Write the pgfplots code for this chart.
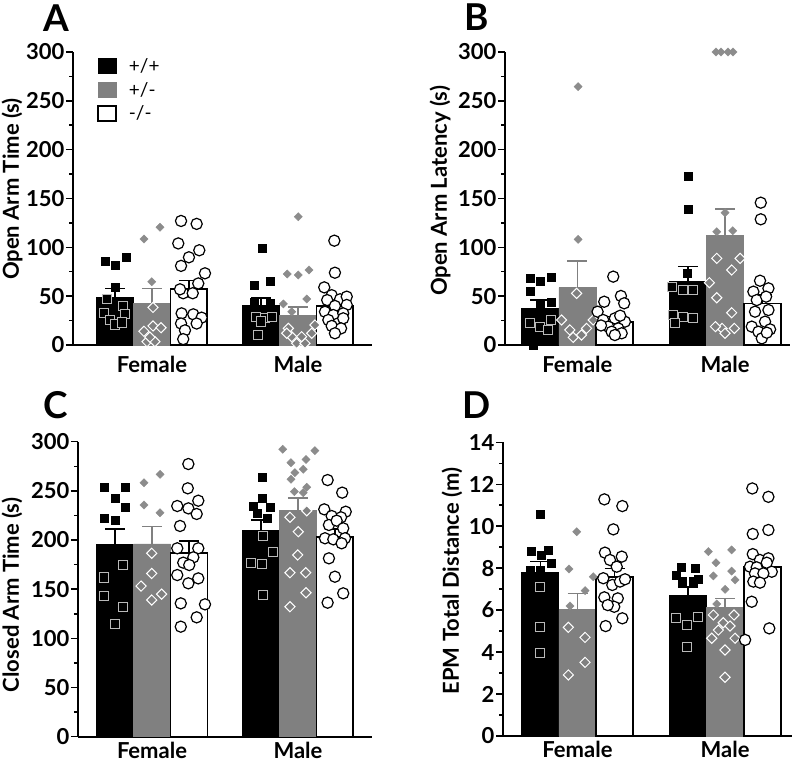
\documentclass[border=0pt]{standalone}
\usepackage{pgfplots}
\pgfplotsset{compat=1.18}
\usepackage{fontspec}
\setmainfont{Lato}
\definecolor{barg}{RGB}{128,128,128}
\definecolor{ptg}{RGB}{140,140,140}
\definecolor{edgeg}{RGB}{185,185,185}
\pgfplotsset{
  base/.style={scale only axis, anchor=south west,
    axis lines*=left, axis line style={line width=1.8pt, -},
    ymin=0, xtick={0,1}, xticklabels={Female,Male},
    major x tick style={draw=none},
    every tick/.append style={line width=1.5pt, black},
    tick align=outside, major tick length=7pt, minor tick length=4pt,
    minor y tick num=1, clip=false,
    tick label style={font=\bfseries\fontsize{22}{22}\selectfont},
    yticklabel style={inner sep=1.5pt},
    xticklabel style={inner sep=0pt, yshift=-4pt},
    /pgf/number format/assume math mode=true},
  wtbar/.style={ybar, bar width=#1, bar shift=-#1, fill=black, draw=black, line width=1pt},
  hetbar/.style={ybar, bar width=#1, bar shift=0pt, fill=barg, draw=barg, line width=0.5pt},
  kobar/.style={ybar, bar width=#1, bar shift=#1, fill=white, draw=black, line width=1.8pt},
  errb/.style={draw=none, mark=none, forget plot, error bars/.cd, y dir=plus, y explicit,
    error bar style={line width=1.6pt, draw=#1, solid},
    error mark options={rotate=90, mark size=10pt, line width=1.6pt, draw=#1, solid}},
  wtfill/.style={only marks, mark=square*, mark size=4pt, mark options={fill=black, draw=black, line width=0.4pt}},
  wthol/.style={only marks, mark=square*, mark size=4.6pt, mark options={fill=black, draw=edgeg, line width=1pt}},
  hetfill/.style={only marks, mark=square*, mark size=2.9pt, mark options={rotate=45, fill=ptg, draw=ptg, line width=0.4pt}},
  hethol/.style={only marks, mark=square*, mark size=3.6pt, mark options={rotate=45, fill=barg, draw=white, line width=1pt}},
  kocirc/.style={only marks, mark=*, mark size=5.6pt, mark options={fill=white, draw=black, line width=1.2pt}},
}
\begin{document}
\begin{tikzpicture}
\useasboundingbox (0pt,0pt) rectangle (800pt,763pt);
% ---------------- Panel A ----------------
\begin{axis}[base, at={(73pt,418pt)}, width=299pt, height=293pt,
  xmin=-0.541, xmax=1.507, ymax=300, ytick={0,50,...,300},
  legend style={at={(rel axis cs:0.08,0.985)}, anchor=north west, draw=none, fill=none,
    font=\fontsize{19}{19}\selectfont, row sep=4pt, inner sep=0pt, cells={anchor=west},
    /tikz/every odd column/.append style={column sep=10pt}},
  legend image code/.code={\draw[#1] (0pt,-7.5pt) rectangle (18pt,7.5pt);}]
\addlegendimage{fill=black, draw=black, line width=1pt}
\addlegendentry{+/+}
\addlegendimage{fill=barg, draw=barg, line width=1pt}
\addlegendentry{+/-}
\addlegendimage{fill=white, draw=black, line width=1.8pt}
\addlegendentry{-/-}
\addplot[wtbar=0.253] coordinates {(0,48.5) (1,40)};
\addplot[hetbar=0.253] coordinates {(0,42.7) (1,30.7)};
\addplot[kobar=0.253] coordinates {(0,57) (1,40)};
\addplot[errb=black] coordinates {(-0.253,48.5) +- (0,9.5) (0.747,40) +- (0,8.4)};
\addplot[errb=barg] coordinates {(0,42.7) +- (0,15.3) (1,30.7) +- (0,8.3)};
\addplot[errb=black] coordinates {(0.253,57) +- (0,9) (1.253,40) +- (0,4.5)};
\addplot[wtfill] coordinates {(-0.322,86.3) (-0.253,82) (-0.18,89.8) (-0.253,59) (0.755,99) (0.699,61.4) (0.808,65.5) (0.699,44.3) (0.808,42.7)};
\addplot[wthol] coordinates {(-0.31,47) (-0.197,40) (-0.329,33) (-0.185,31.4) (-0.288,26) (-0.253,21) (-0.208,23) (0.71,29) (0.774,27.3) (0.82,29) (0.747,24) (0.724,10.2)};
\addplot[hetfill] coordinates {(-0.055,108.5) (0.055,120.5) (-0.002,64.8) (1.002,131.4) (0.927,72.7) (1.002,71.7) (1.075,76.8) (1.06,47) (0.9,42) (0.957,34)};
\addplot[hethol] coordinates {(0.007,38.5) (-0.055,14) (0.007,19.5) (0.062,17.7) (-0.034,3.4) (0.02,3.4) (-0.014,8) (0.934,17) (0.957,8.5) (0.991,1.7) (1.048,1.7) (1.094,12) (1.116,20.5) (1.025,8.5) (0.923,12)};
\addplot[kocirc] coordinates {(0.199,127) (0.306,124) (0.18,104) (0.253,89.8) (0.324,97) (0.199,81) (0.363,73.4) (0.317,63) (0.214,53) (0.279,53) (0.192,57) (0.203,32.4) (0.283,31.4) (0.34,28) (0.199,22) (0.306,22) (0.226,15) (0.214,6)
 (1.249,106.8) (1.253,74) (1.18,59) (1.231,51) (1.288,46.8) (1.334,49.5) (1.2,46) (1.253,40) (1.334,41) (1.185,34) (1.242,30.7) (1.31,32.4) (1.208,25.6) (1.276,22.2) (1.31,27.3) (1.231,19.5) (1.295,17) (1.253,12)};
\end{axis}
% ---------------- Panel B ----------------
\begin{axis}[base, at={(505pt,418pt)}, width=285pt, height=293pt,
  xmin=-0.49, xmax=1.44, ymax=300, ytick={0,50,...,300}]
\addplot[wtbar=0.252] coordinates {(0,37.5) (1,65.5)};
\addplot[hetbar=0.252] coordinates {(0,58.7) (1,112.6)};
\addplot[kobar=0.252] coordinates {(0,23.9) (1,42.5)};
\addplot[errb=black] coordinates {(-0.252,37.5) +- (0,8.5) (0.748,65.5) +- (0,14.7)};
\addplot[errb=barg] coordinates {(0,58.7) +- (0,27.6) (1,112.6) +- (0,26.4)};
\addplot[errb=black] coordinates {(0.252,23.9) +- (0,5.1) (1.252,42.5) +- (0,9)};
\addplot[wtfill] coordinates {(-0.322,68.2) (-0.254,65.8) (-0.18,69.3) (-0.322,54.6) (-0.254,42.7) (-0.18,44.3) (-0.3,0) (0.751,173) (0.751,139) (0.744,74)};
\addplot[wthol] coordinates {(-0.322,22.9) (-0.254,18.8) (-0.198,15.4) (-0.18,25.6) (0.639,59.7) (0.717,56.3) (0.785,56.3) (0.65,30.7) (0.717,29) (0.661,22.9) (0.785,27.3)};
\addplot[hetfill] coordinates {(0.005,264.5) (0.005,108.2) (0.939,300) (0.973,300) (1.02,300) (1.054,300) (1.0,135.5) (0.944,116) (1.052,117)};
\addplot[hethol] coordinates {(-0.005,52.9) (-0.107,25.6) (-0.051,15.4) (-0.028,7.8) (0.028,10.2) (0.062,17) (0.107,25.6) (0.944,88.7) (1.102,88.7) (1.045,76.8) (0.894,63.8) (0.944,48.4) (1.045,33) (0.98,17) (0.935,18.8) (1.0,12) (1.063,17)};
\addplot[kocirc] coordinates {(0.243,70) (0.182,44.3) (0.295,50.2) (0.317,42.7) (0.137,34.1) (0.175,25.6) (0.254,27.3) (0.322,23.9) (0.209,18.8) (0.277,17) (0.232,13.6) (0.3,12) (0.254,10.2) (0.16,20) (0.29,30)
 (1.242,145.7) (1.242,128.7) (1.237,65.8) (1.192,54.6) (1.294,58) (1.215,46) (1.278,49.5) (1.203,34.1) (1.294,35.8) (1.181,18.8) (1.271,23.9) (1.305,16) (1.226,13.6) (1.249,6.8) (1.283,12.6)};
\end{axis}
% ---------------- Panel C ----------------
\begin{axis}[base, at={(78pt,26.3pt)}, width=293.7pt, height=295pt,
  xmin=-0.507, xmax=1.505, ymax=300, ytick={0,50,...,300},
  xticklabel style={yshift=6pt}]
\addplot[wtbar=0.253] coordinates {(0,195) (1,210.2)};
\addplot[hetbar=0.253] coordinates {(0,196) (1,230.5)};
\addplot[kobar=0.253] coordinates {(0,187) (1,203.4)};
\addplot[errb=black] coordinates {(-0.253,195) +- (0,16) (0.747,210.2) +- (0,10.2)};
\addplot[errb=barg] coordinates {(0,196) +- (0,17.6) (1,230.5) +- (0,12.5)};
\addplot[errb=black] coordinates {(0.253,187) +- (0,12.3) (1.253,203.4) +- (0,7.6)};
\addplot[wtfill] coordinates {(-0.329,253.6) (-0.185,253.6) (-0.253,243) (-0.185,233) (-0.329,222) (-0.253,219.7) (0.755,264.4) (0.755,242.4) (0.694,234.6) (0.808,233.3) (0.724,227.2) (0.786,222)};
\addplot[wthol] coordinates {(-0.197,174.6) (-0.329,162) (-0.329,143) (-0.197,132) (-0.253,115) (0.762,204) (0.831,188) (0.678,177) (0.755,175.6) (0.762,144)};
\addplot[hetfill] coordinates {(-0.055,258.3) (0.055,266.8) (-0.055,235.6) (0.055,227.8) (0.895,292.3) (1.116,290.9) (0.952,278.7) (1.055,282) (0.979,268.5) (1.036,272) (0.952,261.8) (1.06,253.6) (0.975,249.2) (1.036,248.2)};
\addplot[hethol] coordinates {(-0.002,186.5) (-0.002,166) (-0.075,153.2) (0.066,145) (-0.002,139) (0.945,223.1) (1.06,229.8) (1.002,208.5) (0.998,184.8) (0.945,166.8) (1.053,166.8) (1.055,146.4) (0.945,132.2)};
\addplot[kocirc] coordinates {(0.249,277.3) (0.245,252.6) (0.317,240) (0.173,234.6) (0.249,232.2) (0.306,226.5) (0.192,214.3) (0.173,191.6) (0.317,191.6) (0.283,182.4) (0.214,177) (0.255,174.6) (0.173,164.4) (0.317,161) (0.249,156) (0.197,135.6) (0.363,134.6) (0.306,121.4) (0.197,111.9)
 (1.203,261) (1.303,248.2) (1.18,231.2) (1.327,228.8) (1.231,224.4) (1.295,223.1) (1.212,215.3) (1.265,219.7) (1.31,211.9) (1.185,201.8) (1.242,200.7) (1.322,201.8) (1.299,196.7) (1.212,181.4) (1.253,162.7) (1.31,145.8) (1.203,136.3)};
\end{axis}
% ---------------- Panel D ----------------
\begin{axis}[base, at={(503pt,27pt)}, width=288.7pt, height=293.7pt,
  xmin=-0.505, xmax=1.452, ymax=14, ytick={0,2,...,14},
  xticklabel style={yshift=6pt}]
\addplot[wtbar=0.252] coordinates {(0,7.78) (1,6.69)};
\addplot[hetbar=0.252] coordinates {(0,6.04) (1,6.13)};
\addplot[kobar=0.252] coordinates {(0,7.59) (1,8.07)};
\addplot[errb=black] coordinates {(-0.252,7.78) +- (0,0.53) (0.748,6.69) +- (0,0.4)};
\addplot[errb=barg] coordinates {(0,6.04) +- (0,0.76) (1,6.13) +- (0,0.43)};
\addplot[errb=black] coordinates {(0.252,7.59) +- (0,0.4) (1.252,8.07) +- (0,0.48)};
\addplot[wtfill] coordinates {(-0.254,10.58) (-0.311,8.79) (-0.247,8.63) (-0.202,8.87) (-0.175,8.23) (-0.322,7.91) (-0.254,7.88) (0.7,8.07) (0.797,7.99) (0.668,7.67) (0.713,7.4) (0.781,7.36) (0.819,7.47)};
\addplot[wthol] coordinates {(-0.254,7.09) (-0.254,5.21) (-0.254,3.94) (0.668,5.61) (0.744,5.29) (0.819,5.69) (0.744,4.26)};
\addplot[hetfill] coordinates {(-0.005,9.74) (-0.058,7.96) (0.107,7.59) (0.051,6.93) (-0.051,6.2) (0.887,8.79) (1.045,8.87) (0.939,8.26) (1.045,7.86) (0.921,7.63) (1.068,7.44) (1.0,6.99) (0.944,6.29)};
\addplot[hethol] coordinates {(-0.062,5.18) (0.051,4.7) (0.051,3.51) (-0.062,2.91) (0.921,5.77) (1.061,5.77) (0.988,5.4) (1.034,5.24) (0.955,5.05) (0.91,4.66) (1.068,4.66) (1.0,4.1) (1.0,2.8)};
\addplot[kocirc] coordinates {(0.182,11.28) (0.304,10.96) (0.243,9.85) (0.186,8.74) (0.3,8.55) (0.22,8.39) (0.266,8.07) (0.175,7.52) (0.236,7.2) (0.288,7.36) (0.322,7.47) (0.182,6.61) (0.273,6.56) (0.249,6.16) (0.205,6.24) (0.304,5.61) (0.191,5.24)
 (1.185,11.8) (1.294,11.4) (1.188,9.63) (1.294,9.82) (1.188,8.67) (1.237,8.39) (1.294,8.47) (1.169,8.07) (1.215,8.04) (1.283,8.26) (1.317,7.83) (1.203,7.75) (1.26,7.75) (1.192,7.36) (1.237,7.31) (1.181,6.4) (1.3,5.13) (1.136,4.58)};
\end{axis}
% ---------------- labels ----------------
\begin{scope}[every node/.style={inner sep=0pt}]
\node[anchor=base west, font=\bfseries\fontsize{37}{37}\selectfont] at (43pt,731pt) {A};
\node[anchor=base west, font=\bfseries\fontsize{37}{37}\selectfont] at (464pt,732pt) {B};
\node[anchor=base west, font=\bfseries\fontsize{37}{37}\selectfont] at (43pt,344pt) {C};
\node[anchor=base west, font=\bfseries\fontsize{37}{37}\selectfont] at (462pt,344pt) {D};
\node[rotate=90, anchor=center, font=\bfseries\fontsize{22}{22}\selectfont] at (12pt,574pt) {Open Arm Time (s)};
\node[rotate=90, anchor=center, font=\bfseries\fontsize{22}{22}\selectfont] at (440pt,572pt) {Open Arm Latency (s)};
\node[rotate=90, anchor=center, font=\bfseries\fontsize{22}{22}\selectfont] at (12pt,168pt) {Closed Arm Time (s)};
\node[rotate=90, anchor=center, font=\bfseries\fontsize{22}{22}\selectfont] at (452pt,182pt) {EPM Total Distance (m)};
\end{scope}
\end{tikzpicture}
\end{document}
